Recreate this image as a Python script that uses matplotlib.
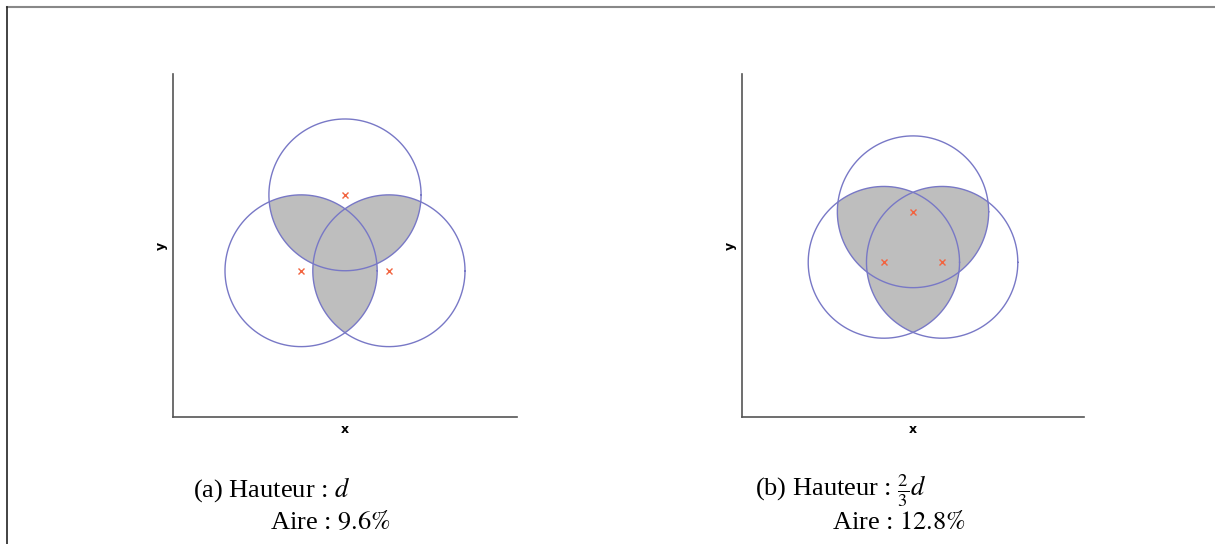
import numpy as np
import matplotlib
matplotlib.use("Agg")
import matplotlib.pyplot as plt
from matplotlib.lines import Line2D

plt.rcParams['mathtext.fontset'] = 'stix'

# circle centres (radius = d = 1), triangle height d and 2/3 d
radius = 1.0
centers_a_x = [0.0, -0.577, 0.577]
centers_a_y = [0.667, -0.333, -0.333]
centers_b_x = [0.0, -0.385, 0.385]
centers_b_y = [0.444, -0.222, -0.222]
hauteurs = ['$d$', r'$\frac{2}{3}d$']
aires = ['$9.6\\%$', '$12.8\\%$']
lettres = ['(a)', '(b)']

FILL = '#bebebe'
EDGE = '#7878c6'
MARK = '#f26440'


def lens(cx1, cy1, cx2, cy2, r):
    t = np.linspace(0, 2 * np.pi, 1441)
    x1, y1 = cx1 + r * np.cos(t), cy1 + r * np.sin(t)
    x2, y2 = cx2 + r * np.cos(t), cy2 + r * np.sin(t)
    k1 = (x1 - cx2) ** 2 + (y1 - cy2) ** 2 <= r * r
    k2 = (x2 - cx1) ** 2 + (y2 - cy1) ** 2 <= r * r
    px = np.concatenate([x1[k1], x2[k2]])
    py = np.concatenate([y1[k1], y2[k2]])
    mx, my = (cx1 + cx2) / 2, (cy1 + cy2) / 2
    o = np.argsort(np.arctan2(py - my, px - mx))
    return px[o], py[o]


def panel(ax, cxs, cys):
    t = np.linspace(0, 2 * np.pi, 400)
    for i in range(3):
        for j in range(i + 1, 3):
            lx, ly = lens(cxs[i], cys[i], cxs[j], cys[j], radius)
            ax.fill(lx, ly, color=FILL, lw=0, zorder=1)
    for cx, cy in zip(cxs, cys):
        ax.plot(cx + radius * np.cos(t), cy + radius * np.sin(t),
                color=EDGE, lw=1.0, zorder=2)
    ax.plot(cxs, cys, 'x', color=MARK, ms=5, mew=1.0, zorder=3)
    ax.set_xlim(-2.26, 2.26)
    ax.set_ylim(-2.26, 2.26)
    ax.set_xticks([])
    ax.set_yticks([])
    for s in ['top', 'right']:
        ax.spines[s].set_visible(False)
    for s in ['left', 'bottom']:
        ax.spines[s].set_color('#555555')
        ax.spines[s].set_linewidth(1.2)
    ax.set_xlabel('x', fontsize=9, fontweight='bold', labelpad=4)
    ax.set_ylabel('y', fontsize=9, fontweight='bold', labelpad=4)


fig = plt.figure(figsize=(12.15, 5.44), dpi=100)
ax1 = fig.add_axes([0.1424, 0.2335, 0.2831, 0.6305])
ax2 = fig.add_axes([0.6107, 0.2335, 0.2815, 0.6305])
panel(ax1, centers_a_x, centers_a_y)
panel(ax2, centers_b_x, centers_b_y)

# captions
cap_x1 = [0.1588, 0.6214]
cap_x2 = [0.2222, 0.6848]
for k in range(2):
    fig.text(cap_x1[k], 0.0864, lettres[k] + ' Hauteur : ' + hauteurs[k],
             family='Liberation Serif', fontsize=19, va='baseline')
    fig.text(cap_x2[k], 0.0276, 'Aire : ' + aires[k],
             family='Liberation Serif', fontsize=19, va='baseline')

# page frame
fig.add_artist(Line2D([0.0055, 1.0], [0.987, 0.987], color='#888888', lw=1.5))
fig.add_artist(Line2D([0.0055, 0.0055], [0.0, 0.987], color='#222222', lw=1.2))

fig.savefig('out.png', dpi=100)
